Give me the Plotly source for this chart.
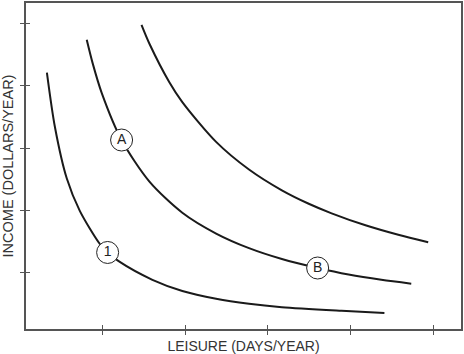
import plotly.graph_objects as go

# Indifference curves (leisure vs income) (tick units 1..5)
curve1_x = [0.325, 0.422, 0.566, 0.723, 0.964, 1.060, 1.193, 1.602, 1.964, 2.373, 2.771, 3.169, 3.892, 4.410]
curve1_y = [4.216, 3.340, 2.510, 1.990, 1.460, 1.320, 1.180, 0.880, 0.700, 0.575, 0.495, 0.440, 0.380, 0.344]

curveA_x = [0.807, 0.880, 0.988, 1.229, 1.566, 1.964, 2.373, 2.771, 3.169, 3.602, 3.976, 4.373, 4.735]
curveA_y = [4.744, 4.360, 3.890, 3.130, 2.460, 1.960, 1.625, 1.390, 1.215, 1.070, 0.965, 0.880, 0.818]

curve3_x = [1.470, 1.566, 1.807, 1.964, 2.373, 2.771, 3.169, 3.494, 3.771, 4.181, 4.578, 4.940]
curve3_y = [4.984, 4.680, 4.060, 3.740, 3.100, 2.655, 2.320, 2.104, 1.950, 1.757, 1.604, 1.484]

label_text = ["A", "1", "B"]
label_x = [1.229, 1.060, 3.602]
label_y = [3.130, 1.320, 1.070]

tick_vals = [1, 2, 3, 4, 5]
x_title = "LEISURE (DAYS/YEAR)"
y_title = "INCOME (DOLLARS/YEAR)"

FONT = "Liberation Sans Narrow, Liberation Sans, Arial"

fig = go.Figure()
for xs, ys in [(curve1_x, curve1_y), (curveA_x, curveA_y), (curve3_x, curve3_y)]:
    fig.add_trace(go.Scatter(x=xs, y=ys, mode="lines",
                             line=dict(color="#1a1a1a", width=2, shape="spline", smoothing=0.8),
                             hoverinfo="skip", showlegend=False))

fig.add_trace(go.Scatter(x=label_x, y=label_y, mode="markers+text", text=label_text,
                         textposition="middle center",
                         textfont=dict(family=FONT, size=14, color="#222"),
                         marker=dict(size=22, color="white", line=dict(color="#222", width=1)),
                         showlegend=False, hoverinfo="skip"))

# invisible trace for overlay axes (inside tick halves)
fig.add_trace(go.Scatter(x=[1], y=[1], xaxis="x2", yaxis="y2", mode="markers",
                         marker=dict(opacity=0), showlegend=False, hoverinfo="skip"))

rng = [0.072, 5.337]
yrng = [0.088, 5.336]
common = dict(showgrid=False, zeroline=False, tickmode="array", tickvals=tick_vals,
              ticklen=4, tickwidth=1, tickcolor="#555", showticklabels=False)
fig.update_layout(
    width=464, height=354,
    margin=dict(l=26, r=1, t=1, b=25),
    paper_bgcolor="white", plot_bgcolor="white",
    xaxis=dict(range=rng, ticks="outside", showline=True, mirror=True,
               linecolor="#555", linewidth=1.5,
               title=dict(text=x_title, standoff=9,
                          font=dict(family=FONT, size=14, color="#333")),
               **common),
    yaxis=dict(range=yrng, ticks="outside", showline=True, mirror=True,
               linecolor="#555", linewidth=1.5,
               title=dict(text=y_title, standoff=4,
                          font=dict(family=FONT, size=14.5, color="#333")),
               **common),
    xaxis2=dict(range=rng, overlaying="x", ticks="inside", side="bottom", showline=False, **common),
    yaxis2=dict(range=yrng, overlaying="y", ticks="inside", side="left", showline=False, **common),
)
fig.write_html("out.html")
